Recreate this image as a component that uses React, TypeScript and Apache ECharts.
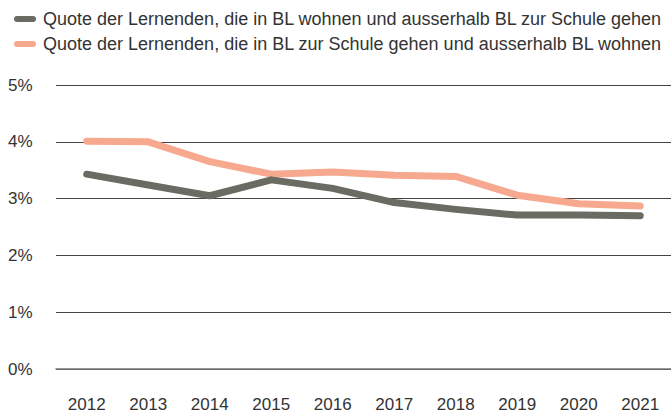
import React, { useEffect, useRef } from "react";
import * as echarts from "echarts";

const years = ["2012", "2013", "2014", "2015", "2016", "2017", "2018", "2019", "2020", "2021"];
const wohnenBL = [3.43, 3.24, 3.05, 3.33, 3.18, 2.93, 2.81, 2.71, 2.71, 2.70];
const schuleBL = [4.01, 4.0, 3.65, 3.43, 3.47, 3.41, 3.39, 3.06, 2.91, 2.87];
const seriesNames = [
  "Quote der Lernenden, die in BL wohnen und ausserhalb BL zur Schule gehen",
  "Quote der Lernenden, die in BL zur Schule gehen und ausserhalb BL wohnen",
];
const colors = ["#6a6b63", "#f6a98f"];

const FONT = "Liberation Sans";

export default function App() {
  const ref = useRef<HTMLDivElement>(null);
  useEffect(() => {
    if (!ref.current) return;
    const chart = echarts.init(ref.current, undefined, { renderer: "svg" });
    const pill = "path://M3,0 L19,0 A3,3 0 0 1 19,6 L3,6 A3,3 0 0 1 3,0 Z";
    chart.setOption({
      animation: false,
      color: colors,
      legend: {
        orient: "vertical",
        left: 9,
        top: 4,
        itemWidth: 22,
        itemHeight: 6,
        itemGap: 5,
        icon: pill,
        textStyle: {
          fontFamily: FONT,
          fontSize: 18,
          color: "#333",
          lineHeight: 20,
          padding: [0, 0, 0, 2],
        },
        data: seriesNames,
      },
      grid: { left: 56, right: 0, top: 85, bottom: 45, containLabel: false },
      xAxis: {
        type: "category",
        data: years,
        boundaryGap: true,
        axisLine: { show: true, lineStyle: { color: "#777", width: 1.5 } },
        axisTick: { show: false },
        axisLabel: { fontFamily: FONT, fontSize: 17, color: "#333", margin: 27 },
      },
      yAxis: {
        type: "value",
        min: 0,
        max: 5,
        interval: 1,
        axisLine: { show: false },
        axisTick: { show: false },
        splitLine: { lineStyle: { color: "#444", width: 1 } },
        axisLabel: {
          fontFamily: FONT,
          fontSize: 17,
          color: "#333",
          align: "left",
          margin: 48,
          formatter: "{value}%",
        },
      },
      series: [
        {
          name: seriesNames[0],
          type: "line",
          data: wohnenBL,
          showSymbol: false,
          symbol: "none",
          lineStyle: { width: 7, cap: "round", join: "round", color: colors[0] },
          z: 3,
        },
        {
          name: seriesNames[1],
          type: "line",
          data: schuleBL,
          showSymbol: false,
          symbol: "none",
          lineStyle: { width: 7, cap: "round", join: "round", color: colors[1] },
          z: 2,
        },
      ],
    });
    return () => chart.dispose();
  }, []);
  return <div ref={ref} style={{ width: 671, height: 414, position: "absolute", left: 0, top: 0 }} />;
}
